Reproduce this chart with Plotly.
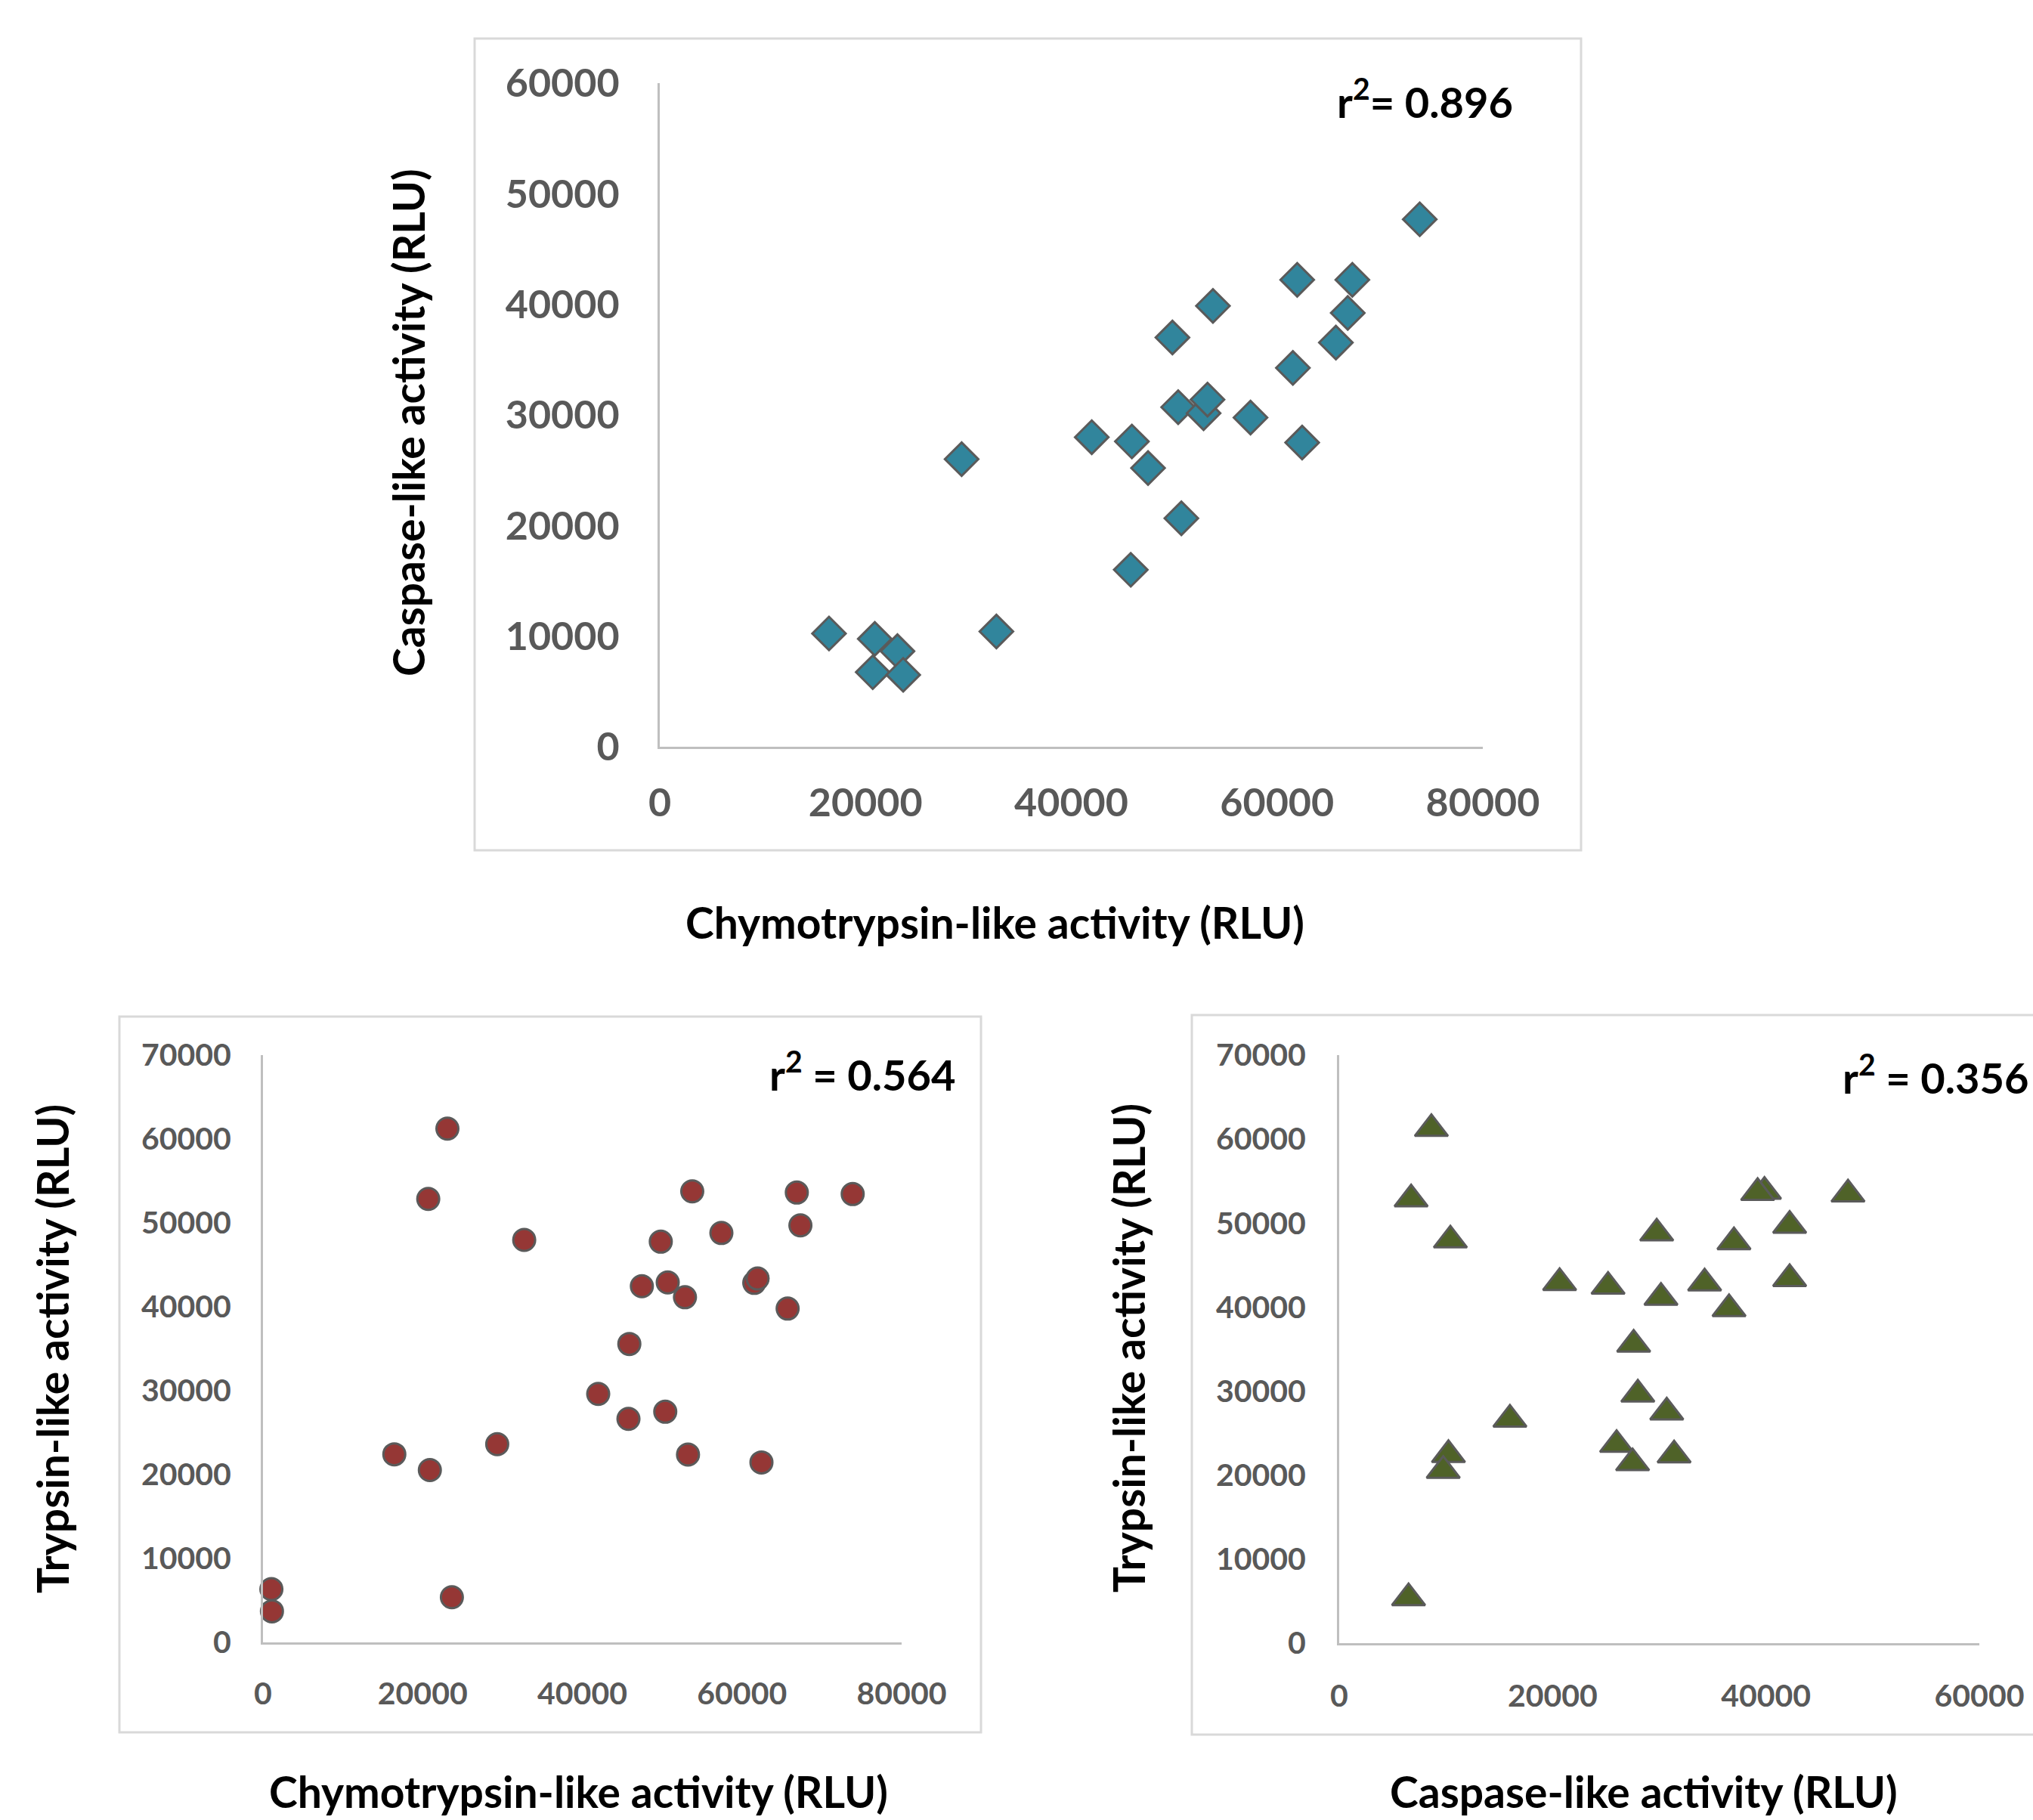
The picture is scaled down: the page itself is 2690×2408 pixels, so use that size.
import plotly.graph_objects as go

W, H = 2690, 2408

# ---- data ----
chymotrypsin = [16450, 20900, 20700, 23100, 23660, 29340, 32720, 41990, 45890, 45780,
                47460, 50700, 49830, 50390, 52860, 53240, 53770, 57420, 61540, 61960,
                62440, 65720, 66870, 67320, 73870, 1050, 1120]
caspase = [10240, 9750, 6740, 8640, 6500, 26000, 10420, 27990, 27600, 16000,
           25200, 20660, 37000, 30700, 30160, 31390, 39860, 29760, 34250, 42220,
           27500, 36540, 39220, 42220, 47690, None, None]
trypsin = [22420, 20540, 52860, 61240, 5380, 23630, 47970, 29620, 35570, 26640,
           42460, 42900, 47760, 27490, 41140, 22390, 53760, 48800, 42850, 43370,
           21450, 39790, 53620, 49710, 53440, 6350, 3700]

r2_labels = ["r<sup>2</sup>= 0.896", "r<sup>2</sup> = 0.564", "r<sup>2</sup> = 0.356"]
x_titles = ["Chymotrypsin-like activity (RLU)", "Chymotrypsin-like activity (RLU)",
            "Caspase-like activity (RLU)"]
y_titles = ["Caspase-like activity (RLU)", "Trypsin-like activity (RLU)",
            "Trypsin-like activity (RLU)"]

# paired (caspase present) subset for charts involving caspase
top_x = [c for c, k in zip(chymotrypsin, caspase) if k is not None]
top_y = [k for k in caspase if k is not None]
br_x = [k for k in caspase if k is not None]
br_y = [t for t, k in zip(trypsin, caspase) if k is not None]

FONT = "Lato, 'Open Sans', Arial, sans-serif"
TICK_COLOR = "#595959"
AXIS_COLOR = "#BFBFBF"
FRAME_COLOR = "#D9D9D9"
EDGE = "#5A5A5A"


def px_x(p):
    return p / W


def px_y(p):
    return 1 - p / H


fig = go.Figure()

fig.add_trace(go.Scatter(x=top_x, y=top_y, mode="markers", xaxis="x", yaxis="y",
                         marker=dict(symbol="diamond", size=34, color="#31859C",
                                     line=dict(color=EDGE, width=3)),
                         showlegend=False, cliponaxis=False))
fig.add_trace(go.Scatter(x=chymotrypsin, y=trypsin, mode="markers", xaxis="x2", yaxis="y2",
                         marker=dict(symbol="circle", size=29, color="#953735",
                                     line=dict(color=EDGE, width=3)),
                         showlegend=False, cliponaxis=False))
fig.add_trace(go.Scatter(x=br_x, y=br_y, mode="markers", xaxis="x3", yaxis="y3",
                         marker=dict(symbol="triangle-up", size=38, color="#4F6228",
                                     line=dict(color=EDGE, width=3)),
                         showlegend=False, cliponaxis=False))


def ax(domain, rng, dtick, fsize, standoff, anchor):
    return dict(domain=domain, range=rng, dtick=dtick, tick0=0, showgrid=False,
                zeroline=False, showline=True, linecolor=AXIS_COLOR, linewidth=3,
                ticks="", ticklabelstandoff=standoff, anchor=anchor, automargin=False,
                tickfont=dict(family=FONT, size=fsize, color=TICK_COLOR, weight="bold"),
                tickformat="d", fixedrange=True)


fig.update_layout(
    template="none",
    width=W, height=H,
    margin=dict(l=0, r=0, t=0, b=0, pad=0, autoexpand=False),
    paper_bgcolor="white", plot_bgcolor="rgba(0,0,0,0)",
    showlegend=False,
    xaxis=ax([px_x(873), px_x(1962)], [0, 80000], 20000, 52, 27, "y"),
    yaxis=ax([px_y(988), px_y(110)], [0, 60000], 10000, 52, 40, "x"),
    xaxis2=ax([px_x(348), px_x(1193)], [0, 80000], 20000, 41, 30, "y2"),
    yaxis2=ax([px_y(2173), px_y(1396)], [0, 70000], 10000, 41, 31, "x2"),
    xaxis3=ax([px_x(1772), px_x(2619)], [0, 60000], 20000, 41, 32, "y3"),
    yaxis3=ax([px_y(2174), px_y(1396)], [0, 70000], 10000, 41, 33, "x3"),
)

# chart frames
frames = [(628, 51, 2092, 1125), (158, 1345, 1298, 2292), (1577, 1343, 2740, 2295)]
for x0, y0, x1, y1 in frames:
    fig.add_shape(type="rect", xref="paper", yref="paper",
                  x0=px_x(x0), x1=px_x(x1), y0=px_y(y0), y1=px_y(y1),
                  line=dict(color=FRAME_COLOR, width=3), fillcolor="rgba(0,0,0,0)",
                  layer="below")

# r-squared labels
r2_pos = [(2004, 130), (1267, 1417), (2687, 1421)]
for txt, (x, y) in zip(r2_labels, r2_pos):
    fig.add_annotation(text=txt, xref="paper", yref="paper", x=px_x(x), y=px_y(y),
                       xanchor="right", yanchor="middle", showarrow=False,
                       font=dict(family=FONT, size=56, color="black", weight="bold"))

# axis titles
xt_pos = [(1316, 1220), (765, 2370), (2175, 2370)]
for txt, (x, y) in zip(x_titles, xt_pos):
    fig.add_annotation(text=txt, xref="paper", yref="paper", x=px_x(x), y=px_y(y),
                       xanchor="center", yanchor="middle", showarrow=False,
                       font=dict(family=FONT, size=57, color="black", weight="bold"))

yt_pos = [(540, 559), (69, 1785), (1493, 1784)]
for txt, (x, y) in zip(y_titles, yt_pos):
    fig.add_annotation(text=txt, xref="paper", yref="paper", x=px_x(x), y=px_y(y),
                       xanchor="center", yanchor="middle", showarrow=False, textangle=-90,
                       font=dict(family=FONT, size=57, color="black", weight="bold"))

fig.write_html("out.html",
               config={"displayModeBar": False},
               post_script="document.body.style.margin='0px';"
                           "document.body.style.overflow='hidden';")
